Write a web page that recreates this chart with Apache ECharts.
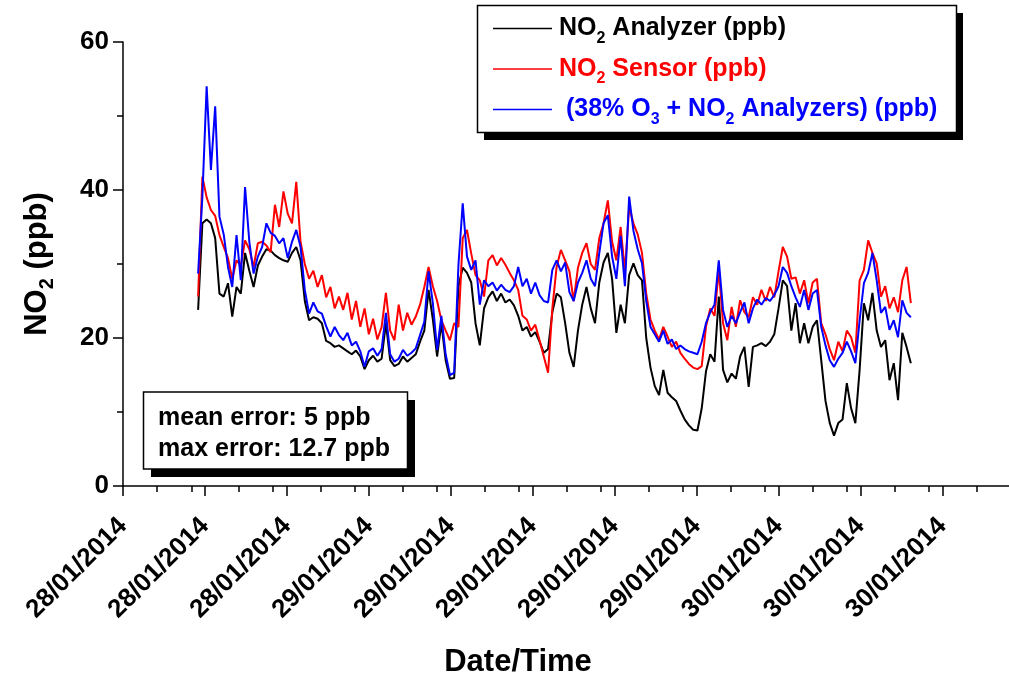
<!DOCTYPE html>
<html><head><meta charset="utf-8">
<script src="https://cdn.jsdelivr.net/npm/echarts@6/dist/echarts.min.js"></script>
<style>html,body{margin:0;padding:0;background:#fff}#c{width:1009px;height:677px}</style>
</head><body><div id="c"></div>
<script>
// ---- data (hours from 28/01/2014 09:36, sampled every 15 min) ----
const startHour = 4.4;
const stepHour = 0.25;

const analyzer = [
23.8,35.5,36.0,35.5,33.5,26.0,25.6,27.4,22.9,26.9,26.0,31.5,29.1,26.9,29.8,31.0,32.0,31.8,31.2,30.8,30.5,30.3,31.5,32.3,30.5,25.0,22.4,22.8,22.6,
22.0,19.6,19.3,18.8,19.0,18.6,18.2,17.8,18.3,17.5,15.8,17.0,17.6,16.8,17.2,22.0,17.0,16.2,16.5,17.5,16.8,17.3,17.8,19.5,21.0,26.5,22.5,
17.5,22.0,17.0,14.5,14.6,27.0,29.5,28.8,27.5,22.0,19.0,24.0,25.5,26.3,25.0,26.0,24.8,25.2,24.4,23.0,21.0,21.5,20.2,20.8,19.5,18.0,18.5,23.5,26.0,
25.5,22.0,18.0,16.1,21.0,24.5,26.9,24.0,22.0,27.5,30.2,31.5,28.0,20.7,24.5,22.0,28.5,30.1,28.5,27.8,20.0,16.0,13.5,12.3,15.7,12.6,12.0,11.5,
10.2,9.0,8.2,7.6,7.5,10.5,15.5,17.8,16.8,25.6,15.7,14.0,15.2,14.5,17.5,18.8,13.4,18.8,19.0,19.3,18.9,19.5,20.5,24.0,27.8,27.0,21.0,24.7,
19.3,22.0,19.3,21.5,22.4,17.0,11.5,8.5,6.8,8.5,9.0,13.9,10.5,8.5,15.7,24.7,22.4,26.1,21.0,18.8,19.7,14.3,16.6,11.6,20.7,18.8,16.6
];
const sensor = [
25.6,41.8,39.0,37.3,36.5,33.9,32.3,30.8,28.0,30.5,29.8,33.2,32.0,29.6,32.8,33.0,32.5,31.6,38.0,35.0,39.8,36.8,35.5,41.1,33.0,30.0,28.0,29.1,26.9,
28.5,25.5,26.9,24.0,25.6,23.8,26.1,22.5,25.0,21.5,24.0,20.5,22.6,19.8,21.5,26.1,21.0,19.7,24.5,21.0,23.4,21.8,22.9,24.5,26.9,29.6,27.0,
25.0,22.4,21.0,19.7,22.0,21.5,33.5,34.6,31.4,28.5,27.8,25.6,30.5,31.2,29.8,30.8,29.9,28.8,27.8,26.5,23.0,22.5,21.0,21.8,19.7,17.5,15.3,24.0,29.6,
31.9,30.5,29.0,25.0,29.5,31.5,32.8,30.0,29.2,33.5,35.5,38.6,33.0,30.5,35.0,29.0,37.7,35.5,34.0,31.5,26.0,22.5,21.0,19.8,21.5,20.2,18.8,19.5,
18.0,17.2,16.5,16.0,15.8,16.2,21.5,24.0,23.0,29.2,22.0,19.7,24.2,21.5,25.1,23.5,22.8,25.5,24.5,26.5,25.0,26.9,25.5,29.0,32.3,31.0,28.0,28.2,
26.0,27.8,24.7,27.5,28.0,22.0,20.5,18.5,17.0,19.5,18.2,21.0,20.1,18.0,27.8,29.2,33.2,31.5,30.1,25.6,27.0,24.0,25.5,23.5,27.8,29.6,24.7
];
const combined = [
28.7,39.1,54.0,42.7,51.3,36.4,34.0,29.6,26.9,33.9,27.8,40.4,33.0,28.7,31.0,32.3,35.5,34.2,33.8,32.8,33.5,30.8,33.0,34.6,32.3,26.5,23.3,24.8,23.6,
23.3,21.6,20.2,21.5,20.4,19.7,20.7,19.0,19.5,18.2,16.1,18.2,18.6,17.6,18.5,23.4,17.8,16.8,17.2,18.4,17.6,18.0,18.6,20.4,22.2,29.0,24.7,
18.4,23.0,17.8,15.0,15.3,29.9,38.2,31.0,29.2,30.5,24.5,27.8,27.0,27.5,26.4,27.2,26.5,26.2,27.0,29.6,27.0,28.0,26.0,27.5,25.8,25.0,24.8,29.2,30.5,
29.0,30.2,26.2,25.0,27.5,28.8,30.5,28.0,27.0,31.5,35.5,36.6,31.0,28.0,33.8,27.0,39.1,34.5,32.0,30.1,25.0,21.5,20.5,19.5,21.0,19.2,19.8,18.5,
19.0,18.5,18.2,18.0,17.8,19.5,22.0,23.5,24.5,30.5,23.8,21.5,23.0,22.0,23.5,24.8,22.0,24.0,25.2,24.5,25.4,25.0,25.8,27.0,29.6,28.8,27.0,25.5,
24.2,26.5,23.8,26.0,26.5,21.5,19.0,17.0,16.1,17.2,18.0,19.5,18.2,16.6,22.4,27.4,28.8,31.5,27.8,23.4,24.2,21.1,22.4,20.1,25.1,23.4,22.8
];

const xTickHours = [0, 4.8, 9.6, 14.4, 19.2, 24, 28.8, 33.6, 38.4, 43.2, 48];
const xTickLabels = ['28/01/2014','28/01/2014','28/01/2014','29/01/2014','29/01/2014','29/01/2014',
                     '29/01/2014','29/01/2014','30/01/2014','30/01/2014','30/01/2014'];
const xMinorHours = [2,4, 6.8,8.8, 11.6,13.6, 16.4,18.4, 21.2,23.2, 26,28, 30.8,32.8, 35.6,37.6, 40.4,42.4, 45.2,47.2, 50];
const yTicks = [0, 20, 40, 60];

const seriesNames = ['NO2 Analyzer (ppb)', 'NO2 Sensor (ppb)', '(38% O3 + NO2 Analyzers) (ppb)'];
const legendRich = {
  'NO2 Analyzer (ppb)': '{k|NO}{ks|2}{k| Analyzer (ppb)}',
  'NO2 Sensor (ppb)': '{r|NO}{rs|2}{r| Sensor (ppb)}',
  '(38% O3 + NO2 Analyzers) (ppb)': '{b| (38% O}{bs|3}{b| + NO}{bs|2}{b| Analyzers) (ppb)}'
};

// ---- chart ----
const FONT = '"Liberation Sans", Arial, Helvetica, sans-serif';
const times = analyzer.map((_, i) => +(startHour + i * stepHour).toFixed(3));
const pairs = vals => vals.map((v, i) => [times[i], v]);

function mainTok(color){ return {color, fontFamily:FONT, fontWeight:'bold', fontSize:25, lineHeight:36, verticalAlign:'middle'}; }
function subTok(color){ return {color, fontFamily:FONT, fontWeight:'bold', fontSize:16, lineHeight:14, verticalAlign:'bottom'}; }

const chart = echarts.init(document.getElementById('c'));
const axisColor = '#000';
chart.setOption({
  animation: false,
  backgroundColor: '#fff',
  grid: {left:123, right:0, top:42, bottom:191, containLabel:false, outerBoundsMode:'none'},
  xAxis: [{
    type:'value', min:0, max:51.9, position:'bottom',
    axisLine:{show:true, onZero:false, lineStyle:{color:axisColor, width:1.5}},
    axisTick:{show:true, customValues:xTickHours, length:10, lineStyle:{color:axisColor, width:1.5}},
    axisLabel:{show:true, customValues:xTickHours, rotate:45, margin:36, color:'#000',
      fontFamily:FONT, fontWeight:'bold', fontSize:26,
      formatter: v => xTickLabels[Math.round(v / 4.8)]},
    splitLine:{show:false},
    name:'Date/Time', nameLocation:'middle', nameGap:161,
    nameTextStyle:{color:'#000', fontFamily:FONT, fontWeight:'bold', fontSize:31, padding:[0,96,0,0]}
  },{
    type:'value', min:0, max:51.9, position:'bottom',
    axisLine:{show:false},
    axisTick:{show:true, customValues:xMinorHours, length:6, lineStyle:{color:axisColor, width:1.5}},
    axisLabel:{show:false}, splitLine:{show:false}
  }],
  yAxis: {
    type:'value', min:0, max:60, interval:20,
    axisLine:{show:true, onZero:false, lineStyle:{color:axisColor, width:1.5}},
    axisTick:{show:true, length:10, lineStyle:{color:axisColor, width:1.5}},
    minorTick:{show:true, splitNumber:2, length:6, lineStyle:{color:axisColor, width:1.5}},
    axisLabel:{margin:14, color:'#000', fontFamily:FONT, fontWeight:'bold', fontSize:26,
      formatter: v => yTicks.indexOf(v) >= 0 ? String(v) : ''},
    splitLine:{show:false}, minorSplitLine:{show:false},
    name:'{a|NO}{s|2}{a| (ppb)}', nameLocation:'middle', nameGap:66,
    nameTextStyle:{rich:{
      a:{color:'#000', fontFamily:FONT, fontWeight:'bold', fontSize:31, lineHeight:40, verticalAlign:'middle'},
      s:{color:'#000', fontFamily:FONT, fontWeight:'bold', fontSize:20, lineHeight:17, verticalAlign:'bottom'}
    }}
  },
  legend: {
    orient:'vertical', left:493, top:16, padding:0, z:10,
    icon:'rect', itemWidth:59, itemHeight:1.5, itemGap:10,
    data: seriesNames,
    formatter: name => legendRich[name],
    textStyle:{padding:[0,0,0,2], rich:{
      k:mainTok('#000'), ks:subTok('#000'),
      r:mainTok('#ff0000'), rs:subTok('#ff0000'),
      b:mainTok('#0000ff'), bs:subTok('#0000ff')
    }}
  },
  series: [
    {name:seriesNames[0], type:'line', data:pairs(analyzer), showSymbol:false, symbol:'none',
     lineStyle:{color:'#000000', width:2}, itemStyle:{color:'#000000'}, z:2},
    {name:seriesNames[1], type:'line', data:pairs(sensor), showSymbol:false, symbol:'none',
     lineStyle:{color:'#ff0000', width:2}, itemStyle:{color:'#ff0000'}, z:3},
    {name:seriesNames[2], type:'line', data:pairs(combined), showSymbol:false, symbol:'none',
     lineStyle:{color:'#0000ff', width:2}, itemStyle:{color:'#0000ff'}, z:4}
  ],
  graphic: [
    // legend frame with drop shadow
    {type:'rect', z:1, shape:{x:484, y:13, width:479, height:127}, style:{fill:'#000'}},
    {type:'rect', z:2, shape:{x:477.5, y:5.5, width:479, height:127}, style:{fill:'#fff', stroke:'#000', lineWidth:1.5}},
    // error text box with drop shadow
    {type:'rect', z:100, shape:{x:151, y:400, width:264, height:77}, style:{fill:'#000'}},
    {type:'rect', z:101, shape:{x:143.5, y:392, width:264, height:77}, style:{fill:'#fff', stroke:'#000', lineWidth:1.5}},
    {type:'text', z:102, x:158, y:418, style:{text:'mean error: 5 ppb', fill:'#000',
      font:'bold 25px ' + FONT, verticalAlign:'middle', align:'left'}},
    {type:'text', z:102, x:158, y:449, style:{text:'max error: 12.7 ppb', fill:'#000',
      font:'bold 25px ' + FONT, verticalAlign:'middle', align:'left'}}
  ]
});
</script></body></html>
